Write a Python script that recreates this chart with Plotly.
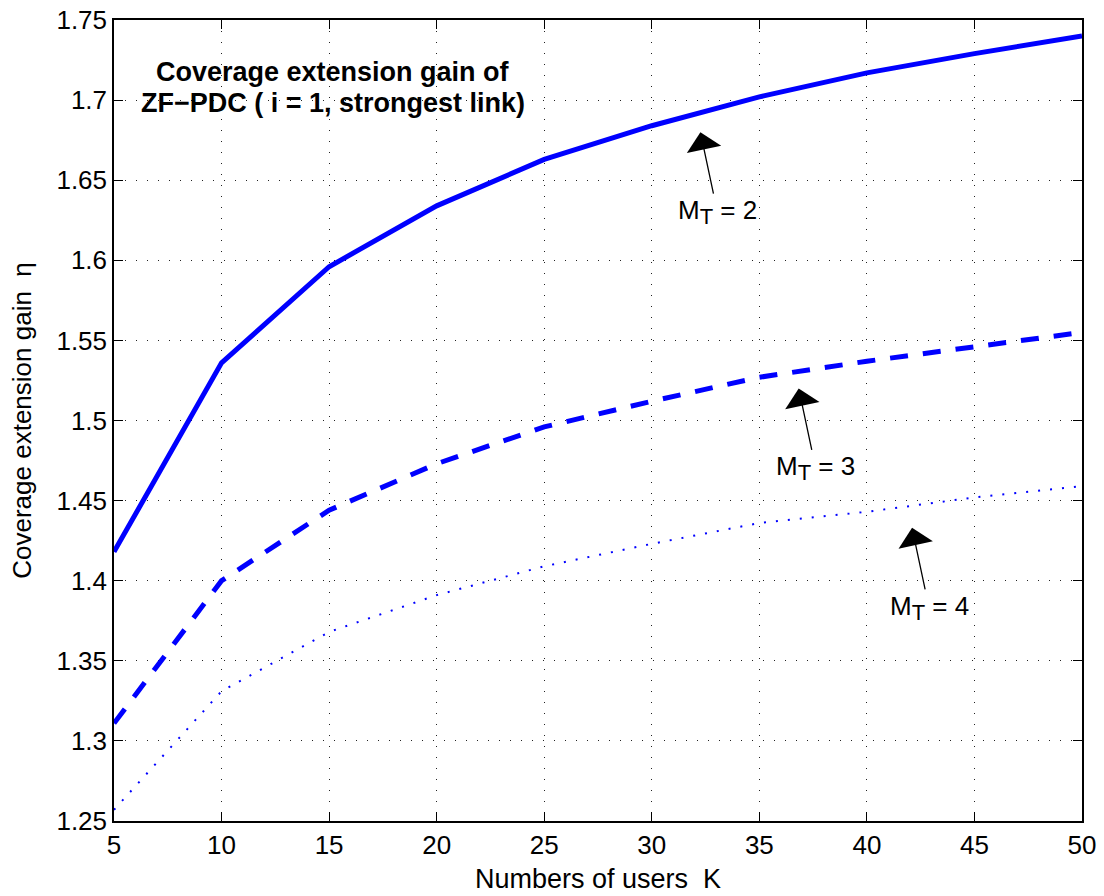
import plotly.graph_objects as go

K = [5, 10, 15, 20, 25, 30, 35, 40, 45, 50]
eta_mt2 = [1.418, 1.536, 1.596, 1.634, 1.663, 1.684, 1.702, 1.717, 1.729, 1.740]
eta_mt3 = [1.311, 1.400, 1.444, 1.473, 1.496, 1.512, 1.527, 1.537, 1.546, 1.555]
eta_mt4 = [1.257, 1.331, 1.368, 1.391, 1.409, 1.423, 1.436, 1.443, 1.452, 1.459]

x_ticks = [5, 10, 15, 20, 25, 30, 35, 40, 45, 50]
y_ticks = [1.25, 1.3, 1.35, 1.4, 1.45, 1.5, 1.55, 1.6, 1.65, 1.7, 1.75]
y_tick_text = ["1.25", "1.3", "1.35", "1.4", "1.45", "1.5", "1.55", "1.6", "1.65", "1.7", "1.75"]

title_lines = ["Coverage extension gain of", "ZF\u2212PDC ( i = 1, strongest link)"]
labels = ["M<sub><span style='font-size:22px'>T</span></sub> = 2",
          "M<sub><span style='font-size:22px'>T</span></sub> = 3",
          "M<sub><span style='font-size:22px'>T</span></sub> = 4"]
arrow_points = [(32.26, 1.680), (36.83, 1.520), (42.1, 1.433)]

FONT = "Liberation Sans, Arial, Helvetica, sans-serif"
BLUE = "#0000ff"

fig = go.Figure()
fig.add_trace(go.Scatter(x=K, y=eta_mt2, mode="lines", name="M_T = 2",
                         line=dict(color=BLUE, width=5)))
fig.add_trace(go.Scatter(x=K, y=eta_mt3, mode="lines", name="M_T = 3",
                         line=dict(color=BLUE, width=5, dash="18px,15px")))
fig.add_trace(go.Scatter(x=K, y=eta_mt4, mode="lines", name="M_T = 4",
                         line=dict(color=BLUE, width=2, dash="2px,10px")))

annotations = []
for i, line in enumerate(title_lines):
    annotations.append(dict(x=15.2, y=[1.7173, 1.6979][i], xref="x", yref="y",
                            text="<b>" + line + "</b>", showarrow=False,
                            font=dict(family=FONT, size=27, color="black"),
                            xanchor="center", yanchor="middle"))
for (px, py), lab in zip(arrow_points, labels):
    annotations.append(dict(x=px, y=py, xref="x", yref="y", text=lab,
                            showarrow=True, arrowhead=1, arrowsize=4.5, arrowwidth=1.3,
                            arrowcolor="black", ax=17, ay=80,
                            font=dict(family=FONT, size=26, color="black")))

axis_common = dict(
    showline=True, linecolor="black", linewidth=1.5, mirror="ticks",
    ticks="inside", ticklen=9, tickwidth=1.3, tickcolor="black",
    showgrid=True, gridcolor="#222", gridwidth=1, griddash="1px,10px",
    zeroline=False, automargin=False,
    tickfont=dict(family=FONT, size=26, color="black"),
)

fig.update_layout(
    width=1104, height=896,
    margin=dict(l=114, r=22, t=20, b=75),
    paper_bgcolor="white", plot_bgcolor="white",
    showlegend=False,
    font=dict(family=FONT, color="black"),
    xaxis=dict(range=[5, 50], tickvals=x_ticks, ticktext=[str(v) for v in x_ticks],
               title=dict(text="Numbers of users\u00a0\u00a0K", standoff=10,
                          font=dict(family=FONT, size=27, color="black")),
               **axis_common),
    yaxis=dict(range=[1.25, 1.75], tickvals=y_ticks, ticktext=y_tick_text,
               title=dict(text="Coverage extension gain\u00a0\u00a0\u03b7", standoff=17,
                          font=dict(family=FONT, size=26, color="black")),
               **axis_common),
    annotations=annotations,
)

fig.write_html("out.html", config={"displayModeBar": False},
               post_script="document.body.style.margin='0';document.body.style.overflow='hidden';")
